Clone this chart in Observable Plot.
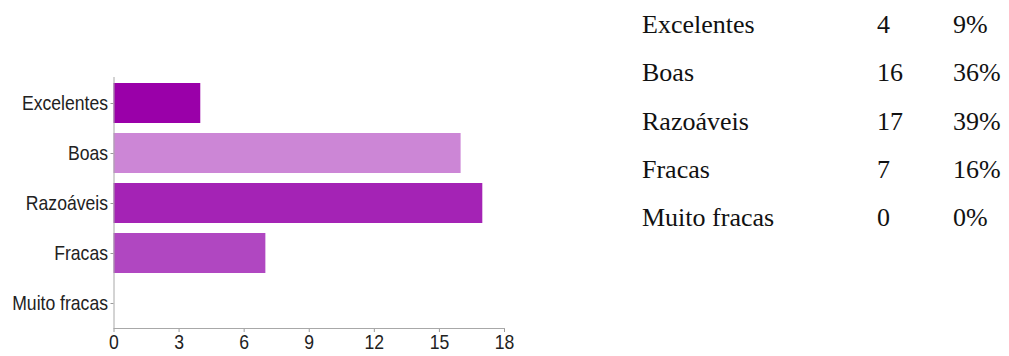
<!DOCTYPE html>
<html>
<head>
<meta charset="utf-8">
<script src="https://cdn.jsdelivr.net/npm/d3@7"></script>
<script src="https://cdn.jsdelivr.net/npm/@observablehq/plot@0.6"></script>
<style>
  html, body { margin: 0; padding: 0; background: #fff; }
  #wrap { position: relative; width: 1009px; height: 356px; overflow: hidden; }
  #chart { position: absolute; left: 0; top: 0; }
  #summary { position: absolute; left: 642px; top: 1px; font-family: "Liberation Serif", "Times New Roman", serif; font-size: 26px; color: #111; }
  #summary .row { position: relative; height: 48.25px; line-height: 48.25px; white-space: nowrap; }
  #summary .row span { position: absolute; top: 0; }
</style>
</head>
<body>
<div id="wrap">
  <div id="chart"></div>
  <div id="summary"></div>
</div>
<script>
// Survey answers and their counts
const categories = ["Excelentes", "Boas", "Razoáveis", "Fracas", "Muito fracas"];
const counts = [4, 16, 17, 7, 0];
const barColors = ["#9a00a9", "#cc86d6", "#a423b5", "#b047c1", "#d9a8e1"];
const xTicks = [0, 3, 6, 9, 12, 15, 18];

const total = d3.sum(counts);
const percentLabels = counts.map(c => Math.round((100 * c) / total) + "%");

const data = categories.map((category, i) => ({ category, count: counts[i] }));

const chart = Plot.plot({
  width: 540,
  height: 356,
  marginLeft: 113.5,
  marginRight: 36,
  marginTop: 77,
  marginBottom: 28,
  style: { fontFamily: "'Liberation Sans', Arial, sans-serif", fontSize: "20px", background: "transparent" },
  x: { domain: [0, 18], label: null },
  y: { domain: categories, paddingInner: 0.2, paddingOuter: 0.1, label: null },
  color: { domain: categories, range: barColors },
  marks: [
    Plot.barX(data, { x: "count", y: "category", fill: "category" }),
    Plot.axisX({ ticks: xTicks, tickSize: 4, tickPadding: 2, stroke: "#9a9a9a", fill: "#222", fontSize: 20, label: null }),
    Plot.axisY({ tickSize: 3, tickPadding: 3, stroke: "#9a9a9a", fill: "#222", fontSize: 20, label: null }),
    Plot.ruleX([0], { stroke: "#a8a8a8" }),
    Plot.frame({ anchor: "bottom", stroke: "#a8a8a8" })
  ]
});

// Tick labels use a condensed rendering of the sans face
d3.select(chart)
  .selectAll("g[aria-label='x-axis tick label'] text, g[aria-label='y-axis tick label'] text")
  .attr("transform", function () {
    const t = this.getAttribute("transform") || "";
    return t + " scale(0.88,1)";
  });

document.getElementById("chart").appendChild(chart);

// Summary table: answer, count, share
const summary = d3.select("#summary");
categories.forEach((c, i) => {
  const row = summary.append("div").attr("class", "row");
  row.append("span").style("left", "0px").text(c);
  row.append("span").style("left", "235px").text(counts[i]);
  row.append("span").style("left", "311px").text(percentLabels[i]);
});
</script>
</body>
</html>
